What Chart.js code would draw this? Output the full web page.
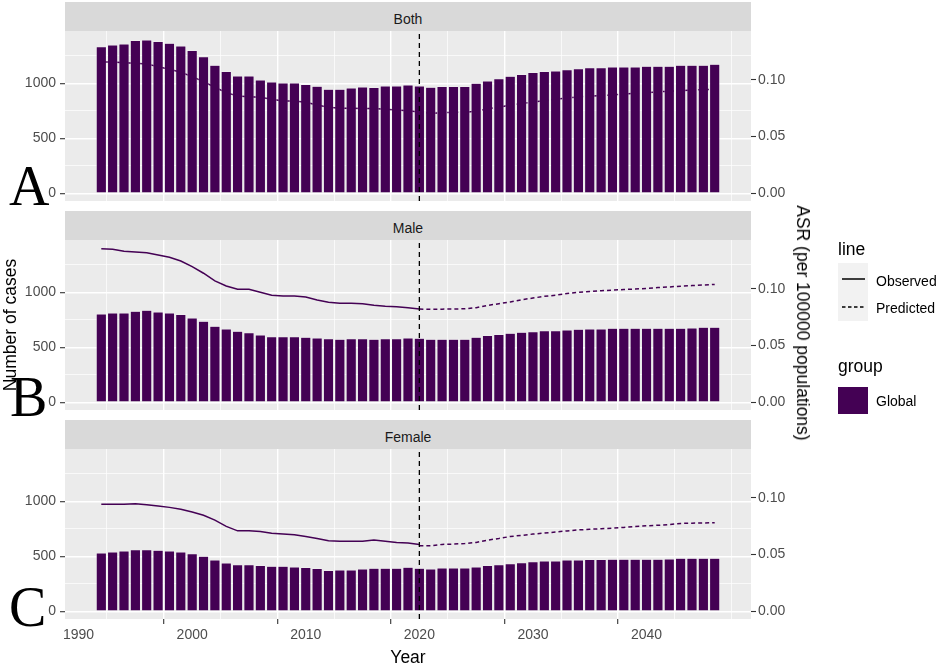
<!DOCTYPE html>
<html>
<head>
<meta charset="utf-8">
<script src="https://cdn.jsdelivr.net/npm/chart.js@4.4.1/dist/chart.umd.min.js"></script>
<style>
html,body{margin:0;padding:0;background:#fff;}
#wrap{position:relative;width:944px;height:665px;overflow:hidden;font-family:"Liberation Sans",Arial,sans-serif;}
.strip{position:absolute;left:65px;width:686px;height:29px;background:#D9D9D9;color:#1A1A1A;font-size:14px;line-height:35px;text-align:center;overflow:visible;}
.cv{position:absolute;left:0;}
.t{position:absolute;white-space:nowrap;}
.axt{font-size:17.5px;line-height:20px;color:#000;}
.rotL{transform:translate(-50%,-50%) rotate(-90deg);}
.rotR{transform:translate(-50%,-50%) rotate(90deg);}
.lg{font-size:14px;line-height:16px;color:#000;}
.lgt{font-size:17.5px;line-height:20px;color:#000;}
.big{font-family:"Liberation Serif","Times New Roman",serif;font-size:56px;line-height:56px;color:#000;}
</style>
</head>
<body>
<div id="wrap">
  <div class="strip" style="top:2px;">Both</div>
  <div class="strip" style="top:211px;">Male</div>
  <div class="strip" style="top:420px;">Female</div>

  <canvas id="cA" class="cv" style="top:11px;" width="944" height="210"></canvas>
  <canvas id="cB" class="cv" style="top:220px;" width="944" height="210"></canvas>
  <canvas id="cC" class="cv" style="top:429px;" width="944" height="230"></canvas>

  <div class="t axt rotL" style="left:10px;top:325px;">Number of cases</div>
  <div class="t axt rotR" style="left:803px;top:323px;">ASR (per 100000 populations)</div>
  <div class="t axt" style="left:308px;width:200px;text-align:center;top:647px;">Year</div>

  <div class="t big" style="left:9px;top:158px;">A</div>
  <div class="t big" style="left:10px;top:369px;">B</div>
  <div class="t big" style="left:9px;top:579px;">C</div>

  <div class="t lgt" style="left:838px;top:239px;">line</div>
  <svg class="t" style="left:838px;top:263px;" width="30" height="58">
    <rect x="0" y="0" width="30" height="58" fill="#F2F2F2"/>
    <line x1="4" y1="16" x2="27" y2="16" stroke="#000" stroke-width="1.5"/>
    <line x1="4" y1="44" x2="27" y2="44" stroke="#000" stroke-width="1.5" stroke-dasharray="3.5,2.5"/>
  </svg>
  <div class="t lg" style="left:876px;top:273px;">Observed</div>
  <div class="t lg" style="left:876px;top:300px;">Predicted</div>

  <div class="t lgt" style="left:838px;top:356px;">group</div>
  <svg class="t" style="left:838px;top:387px;" width="30" height="27">
    <rect x="0" y="0" width="30" height="27" fill="#440154"/>
  </svg>
  <div class="t lg" style="left:876px;top:393px;">Global</div>
</div>

<script>
// ---------------- data ----------------
const years = [1992,1993,1994,1995,1996,1997,1998,1999,2000,2001,2002,2003,2004,2005,2006,2007,2008,2009,2010,2011,2012,2013,2014,2015,2016,2017,2018,2019,2020,2021,2022,2023,2024,2025,2026,2027,2028,2029,2030,2031,2032,2033,2034,2035,2036,2037,2038,2039,2040,2041,2042,2043,2044,2045,2046];
const observedYears = [1992,1993,1994,1995,1996,1997,1998,1999,2000,2001,2002,2003,2004,2005,2006,2007,2008,2009,2010,2011,2012,2013,2014,2015,2016,2017,2018,2019,2020];
const predictedYears = [2020,2021,2022,2023,2024,2025,2026,2027,2028,2029,2030,2031,2032,2033,2034,2035,2036,2037,2038,2039,2040,2041,2042,2043,2044,2045,2046];

const bothCases = [1333,1348,1357,1388,1394,1379,1364,1339,1297,1242,1164,1106,1067,1067,1030,1012,1003,1003,988,973,945,945,958,967,961,976,976,985,976,964,970,970,970,1000,1021,1042,1064,1079,1097,1106,1112,1124,1133,1142,1142,1148,1148,1148,1154,1154,1154,1164,1164,1164,1173];
const maleCases = [803,812,812,827,836,821,812,797,766,736,691,666,645,633,612,596,596,596,591,585,578,573,578,578,573,578,578,585,582,573,573,573,573,591,606,615,627,636,642,651,651,657,664,667,667,673,673,673,673,673,673,673,676,682,682];
const femaleCases = [530,539,548,560,560,554,548,539,524,500,467,439,424,424,415,409,409,403,397,388,370,376,376,385,391,391,391,400,391,385,394,394,394,403,415,424,433,442,451,457,457,467,467,470,470,473,473,473,473,473,476,482,482,482,482];

const bothObservedASR = [0.1159,0.1159,0.1153,0.1148,0.1142,0.1117,0.1094,0.1068,0.1030,0.0985,0.0936,0.0888,0.0859,0.0853,0.0848,0.0830,0.0815,0.0815,0.0803,0.0780,0.0759,0.0750,0.0750,0.0748,0.0748,0.0742,0.0736,0.0729,0.0717];
const bothPredictedASR = [0.0717,0.0706,0.0712,0.0714,0.0715,0.0726,0.0745,0.0760,0.0778,0.0792,0.0805,0.0818,0.0830,0.0840,0.0850,0.0858,0.0863,0.0868,0.0875,0.0882,0.0888,0.0895,0.0900,0.0905,0.0910,0.0915,0.0918];
const maleObservedASR = [0.1355,0.1350,0.1332,0.1326,0.1320,0.1300,0.1280,0.1247,0.1197,0.1139,0.1071,0.1026,0.0997,0.0997,0.0971,0.0945,0.0938,0.0938,0.0929,0.0903,0.0883,0.0874,0.0874,0.0870,0.0856,0.0848,0.0844,0.0835,0.0823];
const malePredictedASR = [0.0823,0.0820,0.0822,0.0823,0.0825,0.0835,0.0855,0.0870,0.0885,0.0905,0.0920,0.0935,0.0945,0.0960,0.0970,0.0978,0.0985,0.0990,0.0995,0.1000,0.1005,0.1012,0.1018,0.1025,0.1030,0.1035,0.1040];
const femaleObservedASR = [0.0944,0.0944,0.0944,0.0950,0.0941,0.0929,0.0917,0.0900,0.0877,0.0848,0.0804,0.0749,0.0710,0.0710,0.0704,0.0689,0.0683,0.0675,0.0660,0.0643,0.0622,0.0619,0.0619,0.0619,0.0628,0.0619,0.0608,0.0602,0.0590];
const femalePredictedASR = [0.0579,0.0579,0.0590,0.0593,0.0598,0.0608,0.0628,0.0642,0.0660,0.0670,0.0681,0.0690,0.0700,0.0709,0.0718,0.0724,0.0728,0.0734,0.0740,0.0749,0.0754,0.0759,0.0765,0.0775,0.0778,0.0780,0.0781];

const xTickValues = [1990,1995,2000,2005,2010,2015,2020,2025,2030,2035,2040,2045];
const xTickLabels = [1990,2000,2010,2020,2030,2040];
const leftTickValues = [0,250,500,750,1000,1250];
const leftTickLabels = [0,500,1000];
const rightTickLabels = [0,0.05,0.10];
const splitYear = 2020;

// ------------- scale settings -------------
const xMin = 1988.805, xMax = 2049.195;
const leftMin = -70.25, leftMax = 1475.25;
const secAxisFactor = 10300;   // ASR * factor = left-axis units

Chart.defaults.font.family = '"Liberation Sans", Arial, sans-serif';
Chart.defaults.animation = false;

const panelBg = {
  id: 'panelBg',
  beforeDraw(chart) {
    const a = chart.chartArea, ctx = chart.ctx;
    ctx.save();
    ctx.fillStyle = '#EBEBEB';
    ctx.fillRect(a.left, a.top, a.right - a.left, a.bottom - a.top);
    ctx.restore();
  }
};

const PURPLE = '#440154';

function makePanel(id, cases, obsASR, predASR, bottom) {
  const barData = years.map((y, i) => ({x: y, y: cases[i]}));
  const obsData = observedYears.map((y, i) => ({x: y, y: obsASR[i]}));
  const predData = predictedYears.map((y, i) => ({x: y, y: predASR[i]}));
  const vline = [{x: splitYear, y: leftMin}, {x: splitYear, y: leftMax}];
  const isMajorX = v => xTickLabels.includes(v);
  const isMajorY = v => leftTickLabels.includes(v);
  return new Chart(document.getElementById(id), {
    type: 'bar',
    data: {
      datasets: [
        {type: 'line', data: vline, yAxisID: 'y', borderColor: '#000', borderWidth: 1.3,
         borderDash: [5, 4], pointRadius: 0, order: 0},
        {type: 'bar', data: barData, yAxisID: 'y', backgroundColor: PURPLE,
         borderColor: 'rgba(255,255,255,0.75)', borderWidth: 0.5, borderSkipped: 'start',
         barPercentage: 0.9, categoryPercentage: 1.0, order: 1},
        {type: 'line', data: obsData, yAxisID: 'y2', borderColor: PURPLE, borderWidth: 1.5,
         pointRadius: 0, tension: 0, order: 2},
        {type: 'line', data: predData, yAxisID: 'y2', borderColor: PURPLE, borderWidth: 1.5,
         borderDash: [4, 3], pointRadius: 0, tension: 0, order: 2}
      ]
    },
    options: {
      responsive: false,
      animation: false,
      events: [],
      layout: {padding: {top: 20, bottom: bottom ? 0 : 20, left: 0, right: 0}},
      plugins: {legend: {display: false}, tooltip: {enabled: false}},
      scales: {
        x: {
          type: 'linear', min: xMin, max: xMax, offset: false,
          afterBuildTicks: s => { s.ticks = xTickValues.map(v => ({value: v})); },
          afterFit: s => { s.height = bottom ? 40 : 0; },
          ticks: {display: bottom, autoSkip: false, maxRotation: 0, padding: 3,
                  color: '#4D4D4D', font: {size: 14},
                  callback: v => isMajorX(v) ? String(v) : ''},
          grid: {color: '#FFFFFF',
                 lineWidth: c => (c.tick && isMajorX(c.tick.value)) ? 1.4 : 0.7,
                 drawTicks: bottom, tickLength: 5, tickWidth: 1.1,
                 tickColor: c => (c.tick && isMajorX(c.tick.value)) ? '#333333' : 'rgba(0,0,0,0)'},
          border: {display: false}
        },
        y: {
          type: 'linear', position: 'left', min: leftMin, max: leftMax,
          afterBuildTicks: s => { s.ticks = leftTickValues.map(v => ({value: v})); },
          afterFit: s => { s.width = 65; },
          ticks: {autoSkip: false, padding: 4, color: '#4D4D4D', font: {size: 14},
                  callback: v => isMajorY(v) ? String(v) : ''},
          grid: {color: '#FFFFFF',
                 lineWidth: c => (c.tick && isMajorY(c.tick.value)) ? 1.4 : 0.7,
                 drawTicks: true, tickLength: 5, tickWidth: 1.1,
                 tickColor: c => (c.tick && isMajorY(c.tick.value)) ? '#333333' : 'rgba(0,0,0,0)'},
          border: {display: false}
        },
        y2: {
          type: 'linear', position: 'right',
          min: leftMin / secAxisFactor, max: leftMax / secAxisFactor,
          afterBuildTicks: s => { s.ticks = rightTickLabels.map(v => ({value: v})); },
          afterFit: s => { s.width = 944 - 751; },
          ticks: {autoSkip: false, padding: 2, color: '#4D4D4D', font: {size: 14},
                  callback: v => Number(v).toFixed(2)},
          grid: {drawOnChartArea: false, drawTicks: true, tickLength: 5, tickWidth: 1.1,
                 tickColor: '#333333'},
          border: {display: false}
        }
      }
    },
    plugins: [panelBg]
  });
}

makePanel('cA', bothCases, bothObservedASR, bothPredictedASR, false);
makePanel('cB', maleCases, maleObservedASR, malePredictedASR, false);
makePanel('cC', femaleCases, femaleObservedASR, femalePredictedASR, true);
</script>
</body>
</html>
